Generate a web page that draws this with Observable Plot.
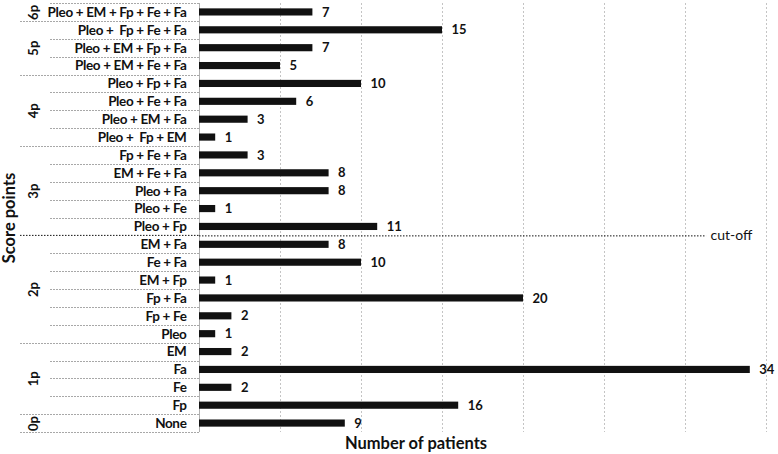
<!DOCTYPE html>
<html><head><meta charset="utf-8">
<script src="https://cdn.jsdelivr.net/npm/d3@7"></script>
<script src="https://cdn.jsdelivr.net/npm/@observablehq/plot@0.6"></script>
<style>body{margin:0;background:#fff} #chart text{white-space:pre} .cat text{letter-spacing:-0.35px}</style>
</head><body><div id="chart"></div>
<script>
const categories = [
  "Pleo + EM + Fp + Fe + Fa",
  "Pleo +  Fp + Fe + Fa",
  "Pleo + EM + Fp + Fa",
  "Pleo + EM + Fe + Fa",
  "Pleo + Fp + Fa",
  "Pleo + Fe + Fa",
  "Pleo + EM + Fa",
  "Pleo +  Fp + EM",
  "Fp + Fe + Fa",
  "EM + Fe + Fa",
  "Pleo + Fa",
  "Pleo + Fe",
  "Pleo + Fp",
  "EM + Fa",
  "Fe + Fa",
  "EM + Fp",
  "Fp + Fa",
  "Fp + Fe",
  "Pleo",
  "EM",
  "Fa",
  "Fe",
  "Fp",
  "None"
];
const values = [7, 15, 7, 5, 10, 6, 3, 1, 3, 8, 8, 1, 11, 8, 10, 1, 20, 2, 1, 2, 34, 2, 16, 9];
const groupLabels = ["6p", "5p", "4p", "3p", "2p", "1p", "0p"];
const groupSizes = [1, 3, 4, 5, 6, 4, 1];
const gridTicks = [5, 10, 15, 20, 25, 30, 35];
const xTitle = "Number of patients";
const yTitle = "Score points";
const cutoffAfter = "Pleo + Fp";
const cutoffLabel = "cut-off";
const cutoffEnd = 31.3;

const rows = categories.map((c, i) => ({cat: c, value: values[i], i}));
let start = 0;
const groups = groupLabels.map((g, k) => {
  const s = start; start += groupSizes[k];
  return {label: g, first: s, last: start - 1, mid: (s + start - 1) / 2};
});
const cutIndex = categories.indexOf(cutoffAfter) + 0.5;
const n = categories.length;

const font = "Lato, 'Open Sans', sans-serif";
const W = 778, H = 454, ML = 199, MR = 12, MT = 3, MB = 22;

const chart = Plot.plot({
  width: W, height: H,
  marginLeft: ML, marginRight: MR, marginTop: MT, marginBottom: MB,
  style: {fontFamily: font, background: "#fff", overflow: "visible", color: "#111"},
  x: {domain: [0, 35], axis: null},
  y: {domain: [-0.5, n - 0.5], reverse: true, axis: null},
  marks: [
    Plot.ruleX(gridTicks, {stroke: "#c4c4c4", strokeDasharray: "2,2", y1: -0.5, y2: n - 0.5}),
    Plot.ruleX([0], {stroke: "#b0b0b0", y1: -0.5, y2: n - 0.5}),
    Plot.rectX(rows, {x1: 0, x2: "value", y1: d => d.i - 0.2, y2: d => d.i + 0.2, fill: "#111"}),
    Plot.text(rows, {x: "value", y: "i", text: d => String(d.value), dx: 9, textAnchor: "start", fontWeight: "bold", fontSize: 13, fill: "#111"}),
    Plot.text(rows, {x: 0, y: "i", text: "cat", dx: -13, textAnchor: "end", fontWeight: "bold", fontSize: 13.5, fill: "#111", className: "cat"}),
    Plot.text(groups, {x: 0, y: "mid", text: "label", dx: -166, rotate: -90, fontWeight: "bold", fontSize: 13, fill: "#111"}),
    Plot.ruleY([cutIndex], {x1: 0, x2: cutoffEnd, stroke: "#111", strokeDasharray: "1.5,1.5"}),
    Plot.text([cutIndex], {x: cutoffEnd, y: d => d, text: () => cutoffLabel, dx: 4, textAnchor: "start", fontSize: 14, fill: "#111"}),
    Plot.text([yTitle], {frameAnchor: "left", text: d => d, textAnchor: "middle", dx: -190, rotate: -90, fontWeight: "bold", fontSize: 16.5, fill: "#111"}),
    Plot.text([xTitle], {frameAnchor: "bottom", text: d => d, lineAnchor: "middle", dx: -67, dy: 11, fontWeight: "bold", fontSize: 16.5, fill: "#111"})
  ]
});
document.getElementById("chart").appendChild(chart);

// table separator lines in the left margin, positioned through Plot's y scale
const ys = chart.scale("y");
const svg = d3.select(chart);
const groupEnds = new Set(groups.map(g => g.last));
const boundaries = d3.range(-1, n).map(i => ({b: i + 0.5, group: groupEnds.has(i)}));
svg.append("g").selectAll("line").data(boundaries.filter(d => d.b !== cutIndex)).join("line")
  .attr("x1", d => d.group ? 20 : 50).attr("x2", ML)
  .attr("y1", d => Math.round(ys.apply(d.b)) + 0.5).attr("y2", d => Math.round(ys.apply(d.b)) + 0.5)
  .attr("stroke", "#a8a8a8").attr("stroke-dasharray", "2,1");
svg.append("line").attr("x1", 20).attr("x2", ML)
  .attr("y1", ys.apply(cutIndex)).attr("y2", ys.apply(cutIndex))
  .attr("stroke", "#111").attr("stroke-dasharray", "1.5,1.5");
</script></body></html>
